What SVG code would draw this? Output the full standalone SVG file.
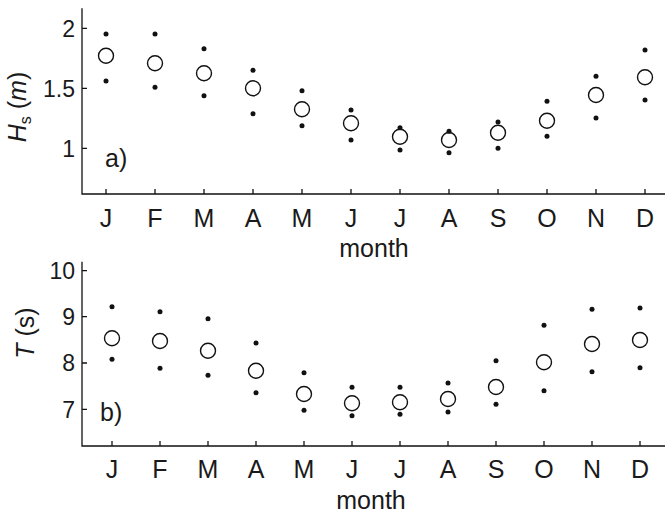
<svg xmlns="http://www.w3.org/2000/svg" width="665" height="517" viewBox="0 0 665 517">
<style>
.ax{stroke:#111;stroke-width:1.3;fill:none}
.t{font-family:"Liberation Sans",Arial,sans-serif;font-size:23px;fill:#1a1a1a}
.yt{text-anchor:end}
.mo{text-anchor:middle}
.big{font-size:25px}
.c{fill:#fff;stroke:#111;stroke-width:1.4}
.d{fill:#111}
</style>
<rect width="665" height="517" fill="#fff"/>
<g id="panel-a">
  <g id="axes-a">
    <path class="ax" d="M82,8.3V194H665"/>
    <path class="ax" d="M82,28.3h5M82,88.3h5M82,148.3h5"/>
    <path class="ax" d="M106,194v-5M155,194v-5M204,194v-5M253,194v-5M302,194v-5M351,194v-5M400,194v-5M449,194v-5M498,194v-5M547,194v-5M596,194v-5M645,194v-5"/>
    <text class="t yt" x="75" y="36.5">2</text>
    <text class="t yt" x="75" y="96.5">1.5</text>
    <text class="t yt" x="75" y="156.5">1</text>
    <g class="t mo big">
      <text x="106" y="227">J</text><text x="155" y="227">F</text><text x="204" y="227">M</text><text x="253" y="227">A</text><text x="302" y="227">M</text><text x="351" y="227">J</text><text x="400" y="227">J</text><text x="449" y="227">A</text><text x="498" y="227">S</text><text x="547" y="227">O</text><text x="596" y="227">N</text><text x="645" y="227">D</text>
    </g>
    <text class="t mo big" x="374" y="257">month</text>
    <text class="t mo big" transform="translate(26,107) rotate(-90)"><tspan font-style="italic">H</tspan><tspan font-size="16" dy="5">s</tspan><tspan dy="-5"> (</tspan><tspan font-style="italic">m</tspan><tspan>)</tspan></text>
    <text class="t big" x="105" y="167">a)</text>
  </g>
  <g id="data-a">
    <circle class="c" cx="106" cy="55.7" r="7.5"/><circle class="c" cx="155" cy="63.3" r="7.5"/><circle class="c" cx="204" cy="73.3" r="7.5"/><circle class="c" cx="253" cy="88.3" r="7.5"/><circle class="c" cx="302" cy="109.3" r="7.5"/><circle class="c" cx="351" cy="123.3" r="7.5"/><circle class="c" cx="400" cy="136.7" r="7.5"/><circle class="c" cx="449" cy="140" r="7.5"/><circle class="c" cx="498" cy="132.7" r="7.5"/><circle class="c" cx="547" cy="120.7" r="7.5"/><circle class="c" cx="596" cy="95" r="7.5"/><circle class="c" cx="645" cy="77.3" r="7.5"/>
    <circle class="d" cx="106" cy="34" r="2.5"/><circle class="d" cx="155" cy="34" r="2.5"/><circle class="d" cx="204" cy="48.7" r="2.5"/><circle class="d" cx="253" cy="70.3" r="2.5"/><circle class="d" cx="302" cy="90.7" r="2.5"/><circle class="d" cx="351" cy="110" r="2.5"/><circle class="d" cx="400" cy="127.7" r="2.5"/><circle class="d" cx="449" cy="131.3" r="2.5"/><circle class="d" cx="498" cy="122" r="2.5"/><circle class="d" cx="547" cy="101.3" r="2.5"/><circle class="d" cx="596" cy="76.3" r="2.5"/><circle class="d" cx="645" cy="50" r="2.5"/>
    <circle class="d" cx="106" cy="81" r="2.5"/><circle class="d" cx="155" cy="87.3" r="2.5"/><circle class="d" cx="204" cy="95.7" r="2.5"/><circle class="d" cx="253" cy="113.7" r="2.5"/><circle class="d" cx="302" cy="125.7" r="2.5"/><circle class="d" cx="351" cy="140" r="2.5"/><circle class="d" cx="400" cy="150" r="2.5"/><circle class="d" cx="449" cy="152.7" r="2.5"/><circle class="d" cx="498" cy="148.3" r="2.5"/><circle class="d" cx="547" cy="136.3" r="2.5"/><circle class="d" cx="596" cy="118" r="2.5"/><circle class="d" cx="645" cy="100" r="2.5"/>
  </g>
</g>
<g id="panel-b">
  <g id="axes-b">
    <path class="ax" d="M82,261.7V446H665"/>
    <path class="ax" d="M82,270.7h5M82,316.7h5M82,363h5M82,409.3h5"/>
    <path class="ax" d="M112,446v-5M160,446v-5M208,446v-5M256,446v-5M304,446v-5M352,446v-5M400,446v-5M448,446v-5M496,446v-5M544,446v-5M592,446v-5M640,446v-5"/>
    <text class="t yt" x="75" y="279">10</text>
    <text class="t yt" x="75" y="325">9</text>
    <text class="t yt" x="75" y="371.3">8</text>
    <text class="t yt" x="75" y="417.6">7</text>
    <g class="t mo big">
      <text x="112" y="478">J</text><text x="160" y="478">F</text><text x="208" y="478">M</text><text x="256" y="478">A</text><text x="304" y="478">M</text><text x="352" y="478">J</text><text x="400" y="478">J</text><text x="448" y="478">A</text><text x="496" y="478">S</text><text x="544" y="478">O</text><text x="592" y="478">N</text><text x="640" y="478">D</text>
    </g>
    <text class="t mo big" x="371" y="509">month</text>
    <text class="t mo big" transform="translate(34,333) rotate(-90)"><tspan font-style="italic">T</tspan> (s)</text>
    <text class="t big" x="100" y="421">b)</text>
  </g>
  <g id="data-b">
    <circle class="c" cx="112" cy="338.3" r="7.5"/><circle class="c" cx="160" cy="341" r="7.5"/><circle class="c" cx="208" cy="350.7" r="7.5"/><circle class="c" cx="256" cy="370.7" r="7.5"/><circle class="c" cx="304" cy="394" r="7.5"/><circle class="c" cx="352" cy="403.3" r="7.5"/><circle class="c" cx="400" cy="402.3" r="7.5"/><circle class="c" cx="448" cy="399" r="7.5"/><circle class="c" cx="496" cy="387" r="7.5"/><circle class="c" cx="544" cy="362.3" r="7.5"/><circle class="c" cx="592" cy="344" r="7.5"/><circle class="c" cx="640" cy="340" r="7.5"/>
    <circle class="d" cx="112" cy="306.7" r="2.5"/><circle class="d" cx="160" cy="311.7" r="2.5"/><circle class="d" cx="208" cy="318.7" r="2.5"/><circle class="d" cx="256" cy="343" r="2.5"/><circle class="d" cx="304" cy="372.7" r="2.5"/><circle class="d" cx="352" cy="387.3" r="2.5"/><circle class="d" cx="400" cy="387.3" r="2.5"/><circle class="d" cx="448" cy="383" r="2.5"/><circle class="d" cx="496" cy="360.7" r="2.5"/><circle class="d" cx="544" cy="325.3" r="2.5"/><circle class="d" cx="592" cy="309.3" r="2.5"/><circle class="d" cx="640" cy="308" r="2.5"/>
    <circle class="d" cx="112" cy="359.3" r="2.5"/><circle class="d" cx="160" cy="368.3" r="2.5"/><circle class="d" cx="208" cy="375.3" r="2.5"/><circle class="d" cx="256" cy="392.7" r="2.5"/><circle class="d" cx="304" cy="410.3" r="2.5"/><circle class="d" cx="352" cy="415.7" r="2.5"/><circle class="d" cx="400" cy="414.3" r="2.5"/><circle class="d" cx="448" cy="412" r="2.5"/><circle class="d" cx="496" cy="404.3" r="2.5"/><circle class="d" cx="544" cy="390.7" r="2.5"/><circle class="d" cx="592" cy="371.7" r="2.5"/><circle class="d" cx="640" cy="367.7" r="2.5"/>
  </g>
</g>
</svg>
